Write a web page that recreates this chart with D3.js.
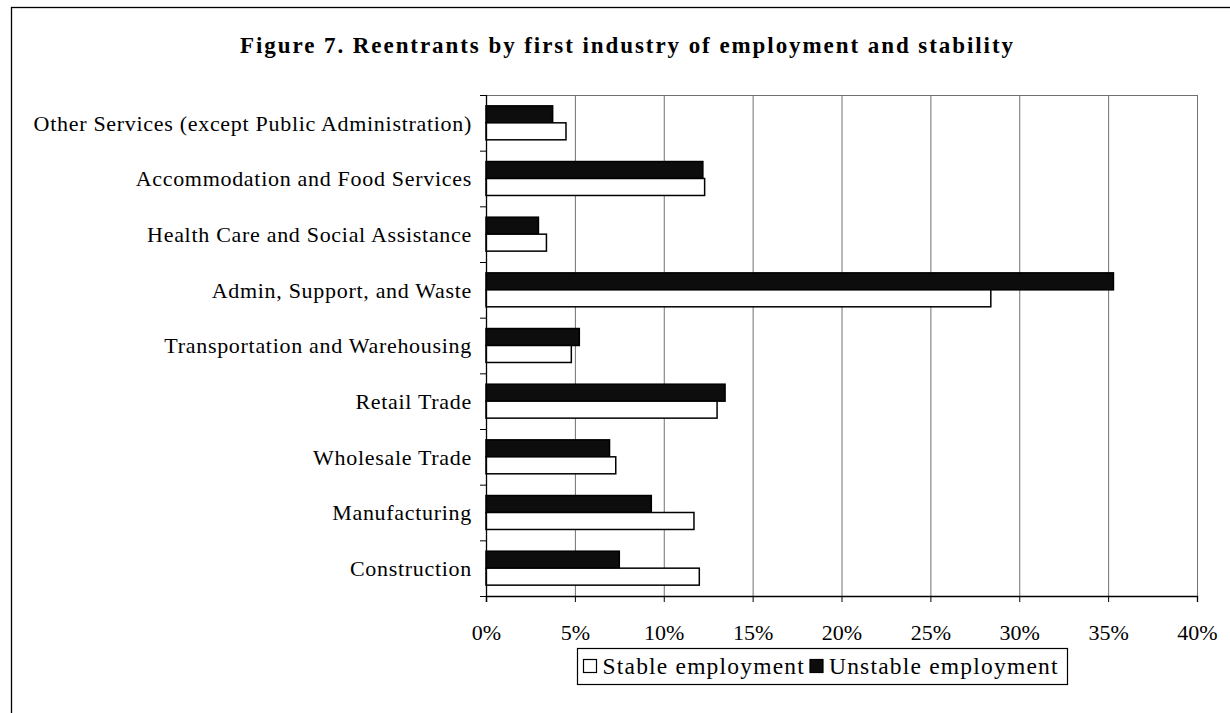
<!DOCTYPE html>
<html>
<head>
<meta charset="utf-8">
<script src="https://cdn.jsdelivr.net/npm/d3@7"></script>
<style>
  html, body { margin: 0; padding: 0; background: #fff; }
  svg { display: block; }
  text { font-family: "Liberation Serif", "Times New Roman", serif; fill: #000; }
</style>
</head>
<body>
<svg id="chart" width="1230" height="713"></svg>
<script>
// Industries, listed top to bottom
const categories = [
  "Other Services (except Public Administration)",
  "Accommodation and Food Services",
  "Health Care and Social Assistance",
  "Admin, Support, and Waste ",
  "Transportation and Warehousing",
  "Retail Trade",
  "Wholesale Trade",
  "Manufacturing",
  "Construction"
];
// Share of reentrants (%) by first industry
const stableValues   = [4.5, 12.3, 3.4, 28.4, 4.8, 13.0, 7.3, 11.7, 12.0];
const unstableValues = [3.75, 12.2, 2.95, 35.3, 5.25, 13.45, 6.95, 9.3, 7.5];
const seriesNames = ["Unstable employment", "Stable employment"];
const legendOrder = ["Stable employment", "Unstable employment"];
const xTickValues = [0, 5, 10, 15, 20, 25, 30, 35, 40];
const titleText = "Figure 7. Reentrants by first industry of employment and stability";

const svg = d3.select("#chart");
const plot = { left: 486, right: 1197, top: 95, bottom: 596 };

// Outer frame
svg.append("rect")
  .attr("x", 11.5).attr("y", 7.5)
  .attr("width", 1240).attr("height", 720)
  .attr("fill", "none").attr("stroke", "#000").attr("stroke-width", 1.3);

// Title
svg.append("text")
  .attr("x", 240).attr("y", 53)
  .attr("textLength", 773).attr("lengthAdjust", "spacing")
  .style("font-size", "23px").style("font-weight", "bold")
  .text(titleText);

const x = d3.scaleLinear().domain([0, 40]).range([plot.left, plot.right]);
const y = d3.scaleBand().domain(categories)
  .range([plot.top, plot.bottom]).paddingInner(0.39).paddingOuter(0.195);
const ySub = d3.scaleBand().domain(seriesNames).range([0, y.bandwidth()]);

const rows = categories.map((c, i) => ({
  category: c,
  values: [
    { series: "Unstable employment", value: unstableValues[i] },
    { series: "Stable employment", value: stableValues[i] }
  ]
}));

// Vertical gridlines
svg.append("g").selectAll("line")
  .data(xTickValues.slice(1))
  .join("line")
  .attr("x1", d => x(d) + 0.5).attr("x2", d => x(d) + 0.5)
  .attr("y1", plot.top).attr("y2", plot.bottom)
  .attr("stroke", "#707070").attr("stroke-width", 1);

// Plot-area top border
svg.append("line")
  .attr("x1", plot.left).attr("x2", plot.right)
  .attr("y1", plot.top + 0.5).attr("y2", plot.top + 0.5)
  .attr("stroke", "#707070").attr("stroke-width", 1);

// Bars
const groups = svg.append("g").selectAll("g")
  .data(rows).join("g")
  .attr("transform", d => `translate(0,${y(d.category)})`);

groups.selectAll("rect")
  .data(d => d.values)
  .join("rect")
  .attr("x", x(0))
  .attr("y", d => ySub(d.series))
  .attr("width", d => x(d.value) - x(0))
  .attr("height", ySub.bandwidth())
  .attr("fill", d => d.series === "Unstable employment" ? "#0d0d0d" : "#fff")
  .attr("stroke", "#000")
  .attr("stroke-width", 1.5);

// X axis
const xAxis = d3.axisBottom(x)
  .tickValues(xTickValues)
  .tickFormat(d => d + "%")
  .tickSize(6).tickPadding(22);
const gx = svg.append("g")
  .attr("transform", `translate(0,${plot.bottom})`)
  .call(xAxis);
gx.select(".domain").attr("stroke", "#000").attr("stroke-width", 1.3);
gx.selectAll(".tick line").attr("stroke", "#000");
gx.selectAll(".tick text")
  .style("font-size", "22px")
  .attr("font-family", null);

// Y axis: ticks sit at category boundaries
const yTickPositions = d3.range(categories.length + 1)
  .map(i => plot.top + i * y.step());
const gy = svg.append("g");
gy.append("line")
  .attr("x1", plot.left + 0.5).attr("x2", plot.left + 0.5)
  .attr("y1", plot.top).attr("y2", plot.bottom + 6)
  .attr("stroke", "#000").attr("stroke-width", 1.3);
gy.selectAll("line.tick")
  .data(yTickPositions)
  .join("line").attr("class", "tick")
  .attr("x1", plot.left - 6).attr("x2", plot.left)
  .attr("y1", d => d + 0.5).attr("y2", d => d + 0.5)
  .attr("stroke", "#000");
gy.selectAll("text")
  .data(categories)
  .join("text")
  .attr("x", 472)
  .attr("y", d => y(d) + y.bandwidth() / 2)
  .attr("dy", "0.35em")
  .attr("text-anchor", "end")
  .style("font-size", "22px")
  .style("letter-spacing", "0.7px")
  .text(d => d);

// Legend
const legend = svg.append("g");
legend.append("rect")
  .attr("x", 577.5).attr("y", 648.5)
  .attr("width", 490).attr("height", 36)
  .attr("fill", "#fff").attr("stroke", "#000").attr("stroke-width", 1.2);

const legendItems = legend.selectAll("g.item")
  .data(legendOrder).join("g").attr("class", "item");
legendItems.append("rect")
  .attr("width", 13).attr("height", 13)
  .attr("y", 659.5)
  .attr("fill", d => d === "Unstable employment" ? "#0d0d0d" : "#fff")
  .attr("stroke", "#000").attr("stroke-width", 1.2);
legendItems.append("text")
  .attr("y", 674)
  .style("font-size", "23.5px")
  .style("letter-spacing", "1.2px")
  .text(d => d);

// Lay legend entries out from their measured widths
let cursor = 583.5;
legendItems.each(function() {
  const g = d3.select(this);
  g.select("rect").attr("x", cursor);
  g.select("text").attr("x", cursor + 19);
  cursor += 19 + g.select("text").node().getComputedTextLength() + 5;
});
</script>
</body>
</html>
